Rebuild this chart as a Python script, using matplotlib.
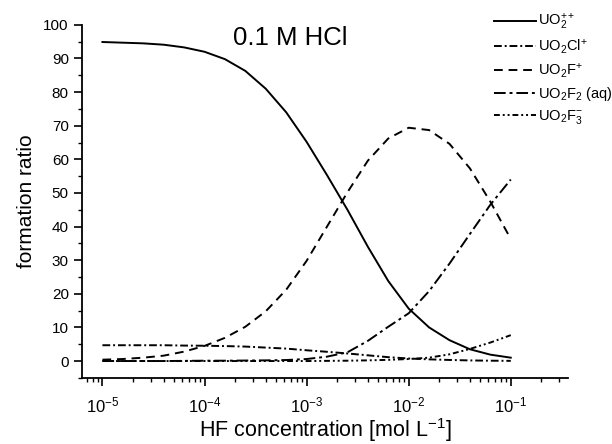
import numpy as np
import matplotlib
matplotlib.use("Agg")
import matplotlib.pyplot as plt
from matplotlib.ticker import LogLocator, MultipleLocator, NullFormatter

plt.rcParams["font.family"] = ["Liberation Sans", "DejaVu Sans"]
plt.rcParams["mathtext.fontset"] = "custom"
plt.rcParams["mathtext.rm"] = "Liberation Sans"
plt.rcParams["mathtext.it"] = "Liberation Sans:italic"

# log10 of HF concentration [mol/L]
log_hf = [-5.0, -4.8, -4.6, -4.4, -4.2, -4.0, -3.8, -3.6, -3.4, -3.2, -3.0,
          -2.8, -2.6, -2.4, -2.2, -2.0, -1.8, -1.6, -1.4, -1.2, -1.0]

# formation ratio (%)
uo2 = [94.9, 94.7, 94.5, 94.1, 93.3, 92.0, 89.8, 86.3, 81.0, 74.0, 65.2,
       55.3, 45.0, 34.0, 23.8, 15.6, 10.0, 6.2, 3.5, 1.9, 1.0]
uo2cl = [4.7, 4.7, 4.7, 4.7, 4.6, 4.55, 4.45, 4.3, 4.0, 3.7, 3.2,
         2.75, 2.25, 1.7, 1.15, 0.75, 0.5, 0.32, 0.18, 0.1, 0.05]
uo2f = [0.4, 0.6, 1.0, 1.6, 2.8, 4.5, 6.9, 10.2, 14.8, 21.2, 29.8,
        40.0, 50.2, 59.6, 66.2, 69.4, 68.7, 64.6, 57.3, 47.4, 36.3]
uo2f2 = [0.0, 0.0, 0.0, 0.0, 0.05, 0.1, 0.1, 0.15, 0.2, 0.3, 0.6,
         1.3, 2.6, 6.0, 10.2, 14.2, 20.8, 29.0, 37.8, 46.5, 54.0]
uo2f3 = [0.0, 0.0, 0.0, 0.0, 0.0, 0.0, 0.0, 0.0, 0.0, 0.0, 0.0,
         0.05, 0.1, 0.2, 0.35, 0.6, 1.0, 2.0, 3.6, 5.5, 7.7]

labels = [r"UO$_2^{++}$", r"UO$_2$Cl$^{+}$", r"UO$_2$F$^{+}$",
          r"UO$_2$F$_2$ (aq)", r"UO$_2$F$_3^{-}$"]

hf = 10.0 ** np.array(log_hf)

fig = plt.figure(figsize=(6.12, 4.44), dpi=100)
ax = fig.add_axes([0.134, 0.149, 0.794, 0.795])

styles = ["-", (0, (4, 1.5, 1, 1.5)), (0, (4.5, 3)), (0, (6, 2, 1.5, 2)),
          (0, (3, 1.5, 1, 1.5, 1, 1.5))]
series = [uo2, uo2cl, uo2f, uo2f2, uo2f3]
for vals, ls, lab in zip(series, styles, labels):
    ax.plot(hf, vals, color="black", ls=ls, lw=1.4, label=lab)

ax.set_xscale("log")
ax.set_xlim(10 ** -5.2, 10 ** -0.44)
ax.set_ylim(-5, 100)
ax.set_xticks([1e-5, 1e-4, 1e-3, 1e-2, 1e-1])
ax.set_xticklabels([r"10$^{-5}$", r"10$^{-4}$", r"10$^{-3}$", r"10$^{-2}$", r"10$^{-1}$"])
ax.xaxis.set_minor_locator(LogLocator(base=10, subs=np.arange(2, 10), numticks=20))
ax.xaxis.set_minor_formatter(NullFormatter())
ax.yaxis.set_minor_locator(MultipleLocator(5))
ax.set_yticks(np.arange(0, 101, 10))

for side in ["top", "right"]:
    ax.spines[side].set_visible(False)
ax.spines["left"].set_linewidth(1.3)
ax.spines["bottom"].set_linewidth(1.3)
ax.tick_params(which="major", direction="out", length=6, width=1.2, labelsize=11)
ax.tick_params(which="minor", direction="out", length=3, width=1.0)
ax.tick_params(axis="x", labelsize=12, pad=7)

ax.set_xlabel("HF concentration [mol L$^{-1}$]", fontsize=15.5, labelpad=0)
ax.set_ylabel("formation ratio", fontsize=15, labelpad=5)

fig.text(0.475, 0.915, "0.1 M HCl", fontsize=18.5, ha="center", va="center")

fig.legend(loc="upper left", bbox_to_anchor=(0.797, 0.985), frameon=False,
           fontsize=10.5, handlelength=2.9, handletextpad=0.15, labelspacing=0.35,
           borderaxespad=0)

fig.savefig("out.png", dpi=100)
